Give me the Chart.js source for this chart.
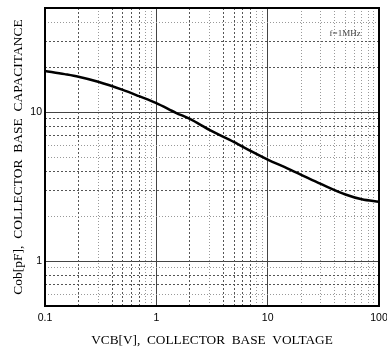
<!DOCTYPE html>
<html lang="en">
<head>
<meta charset="UTF-8">
<title>Cob vs VCB</title>
<script src="https://cdn.jsdelivr.net/npm/chart.js"></script>
<style>
    html, body { margin: 0; padding: 0; background: #fff; }
    #wrap { width: 387px; height: 352px; }
</style>
</head>
<body>
<div id="wrap"><canvas id="chart" width="387" height="352"></canvas></div>
<script>
    // curve
    const vcb = [0.1, 0.15, 0.2, 0.3, 0.5, 0.7, 1, 1.5, 2, 3, 5, 7, 10, 15, 20, 30, 50, 70, 100];
    const cob = [18.9, 18.0, 17.3, 16.0, 14.1, 12.8, 11.5, 9.9, 9.0, 7.6, 6.3, 5.5, 4.8, 4.2, 3.8, 3.3, 2.8, 2.6, 2.5];

    const xTickValues = [0.1, 1, 10, 100];
    const yTickValues = [1, 10];
    const xDashed = [0.2, 0.4, 0.5, 0.6, 0.7, 2, 4, 5, 6, 7];
    const xDotted = [0.3, 0.8, 0.9, 3, 8, 9, 20, 30, 40, 50, 60, 70, 80, 90];
    const yDashed = [0.7, 0.8, 3, 4, 7, 8, 9, 20, 30];
    const yDotted = [0.6, 0.9, 2, 5, 6, 40];

    const xTitle = 'VCB[V],  COLLECTOR  BASE  VOLTAGE';
    const yTitle = 'Cob[pF],  COLLECTOR  BASE  CAPACITANCE';
    const noteText = 'f=1MHz';
    const noteAt = [36, 33.5];

    const serif = '"Liberation Serif", "Times New Roman", serif';
    const sans = '"Liberation Sans", Arial, sans-serif';

    function fixTicks(values) {
        return function(scale) {
            scale.ticks = values.map(v => ({ value: v }));
        };
    }

    function minorAxis(axis, position, values, color, dash) {
        return {
            type: 'logarithmic',
            axis: axis,
            position: position,
            min: axis === 'x' ? 0.1 : 0.5,
            max: axis === 'x' ? 100 : 50,
            afterBuildTicks: fixTicks(values),
            afterFit: function(scale) {
                if (axis === 'x') scale.height = 0; else scale.width = 0;
                scale.paddingLeft = scale.paddingRight = scale.paddingTop = scale.paddingBottom = 0;
            },
            ticks: { display: false },
            grid: { color: color, lineWidth: 1, drawTicks: false },
            border: { display: false, dash: dash }
        };
    }

    const framePlugin = {
        id: 'frame',
        afterDatasetsDraw(chart) {
            const { ctx, chartArea: a, scales } = chart;
            ctx.save();
            ctx.strokeStyle = '#000';
            ctx.lineWidth = 2;
            ctx.strokeRect(a.left, a.top, a.right - a.left, a.bottom - a.top);
            ctx.font = '9px ' + serif;
            ctx.fillStyle = '#444';
            ctx.textBaseline = 'middle';
            ctx.fillText(noteText, scales.x.getPixelForValue(noteAt[0]), scales.y.getPixelForValue(noteAt[1]));
            ctx.restore();
        }
    };

    new Chart(document.getElementById('chart'), {
        type: 'line',
        data: {
            datasets: [{
                data: vcb.map((v, i) => ({ x: v, y: cob[i] })),
                borderColor: '#000',
                borderWidth: 2.5,
                pointRadius: 0,
                cubicInterpolationMode: 'monotone',
                fill: false
            }]
        },
        options: {
            responsive: false,
            animation: false,
            layout: { padding: { top: 8, right: 8, left: 0, bottom: 0 } },
            plugins: { legend: { display: false }, tooltip: { enabled: false } },
            scales: {
                x: {
                    type: 'logarithmic',
                    position: 'bottom',
                    min: 0.1,
                    max: 100,
                    afterBuildTicks: fixTicks(xTickValues),
                    afterFit: function(scale) {
                        scale.height = 46;
                        scale.paddingLeft = 0;
                        scale.paddingRight = 0;
                    },
                    ticks: {
                        color: '#000',
                        padding: 6,
                        maxRotation: 0,
                        font: { family: sans, size: 10.5 },
                        callback: v => String(v)
                    },
                    grid: { color: '#444', lineWidth: 1, drawTicks: false },
                    border: { display: false },
                    title: {
                        display: true,
                        text: xTitle,
                        color: '#000',
                        font: { family: serif, size: 13.3 },
                        padding: { top: 0, bottom: 4 }
                    }
                },
                y: {
                    type: 'logarithmic',
                    position: 'left',
                    min: 0.5,
                    max: 50,
                    afterBuildTicks: fixTicks(yTickValues),
                    afterFit: function(scale) {
                        scale.width = 45;
                        scale.paddingTop = 0;
                        scale.paddingBottom = 0;
                    },
                    ticks: {
                        color: '#000',
                        padding: 3,
                        font: { family: sans, size: 10.5 },
                        callback: v => String(v)
                    },
                    grid: { color: '#444', lineWidth: 1, drawTicks: false },
                    border: { display: false },
                    title: {
                        display: true,
                        text: yTitle,
                        color: '#000',
                        font: { family: serif, size: 13.5 },
                        padding: { top: 10, bottom: 0 }
                    }
                },
                xDash: minorAxis('x', 'bottom', xDashed, '#555', [2, 2]),
                xDot: minorAxis('x', 'bottom', xDotted, '#999', [1, 2]),
                yDash: minorAxis('y', 'left', yDashed, '#555', [2, 2]),
                yDot: minorAxis('y', 'left', yDotted, '#999', [1, 2])
            }
        },
        plugins: [framePlugin]
    });
</script>
</body>
</html>
